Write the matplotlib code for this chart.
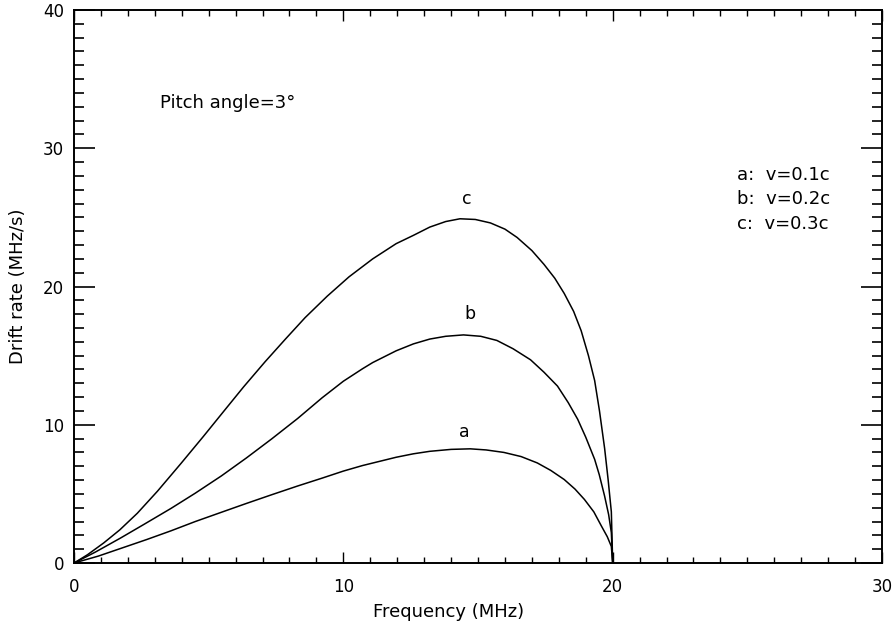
import matplotlib.pyplot as plt
from matplotlib.ticker import MultipleLocator

plt.rcParams.update({
    "font.family": "DejaVu Sans",
    "font.size": 12,
})

# drift rate vs frequency
freq_a = [0, 0.9, 1.8, 2.7, 3.6, 4.5, 5.47, 6.4, 7.34, 8.3, 9.21, 10.0, 10.71,
          11.96, 12.6, 13.21, 14.0, 14.71, 15.3, 15.96, 16.6, 17.2, 17.7, 18.2,
          18.6, 18.95, 19.3, 19.58, 19.8, 19.95, 20]
rate_a = [0, 0.5, 1.1, 1.7, 2.33, 3.0, 3.67, 4.31, 4.94, 5.57, 6.14, 6.65, 7.05,
          7.65, 7.9, 8.08, 8.22, 8.26, 8.18, 8.0, 7.7, 7.24, 6.7, 6.04,
          5.35, 4.6, 3.7, 2.68, 1.9, 1.2, 0]

freq_b = [0, 0.8, 1.72, 2.6, 3.6, 4.5, 5.47, 6.4, 7.34, 8.3, 9.21, 10.0, 10.71,
          11.09, 11.96, 12.6, 13.21, 13.8, 14.46, 15.1, 15.7, 16.3, 16.95, 17.45,
          17.95, 18.35, 18.7, 19.0, 19.33, 19.5, 19.7, 19.85, 19.95, 20]
rate_b = [0, 0.8, 1.8, 2.8, 3.95, 5.05, 6.3, 7.6, 8.98, 10.45, 11.95, 13.15, 14.05,
          14.5, 15.35, 15.85, 16.2, 16.4, 16.5, 16.4, 16.1, 15.5, 14.7, 13.8,
          12.8, 11.6, 10.4, 9.1, 7.5, 6.4, 4.84, 3.5, 2.2, 0]

freq_c = [0, 0.5, 1.1, 1.7, 2.35, 3.1, 3.97, 4.8, 5.59, 6.3, 7.09, 7.85, 8.58,
          9.4, 10.21, 11.09, 11.96, 12.6, 13.21, 13.8, 14.33, 14.9, 15.46, 16.0,
          16.45, 17.0, 17.45, 17.85, 18.2, 18.55, 18.83, 19.1, 19.33, 19.51,
          19.7, 19.83, 19.95, 20]
rate_c = [0, 0.6, 1.45, 2.4, 3.6, 5.2, 7.2, 9.15, 11.05, 12.75, 14.55, 16.2, 17.75,
          19.3, 20.7, 22.0, 23.1, 23.7, 24.3, 24.7, 24.9, 24.85, 24.6, 24.15,
          23.55, 22.6, 21.6, 20.6, 19.5, 18.2, 16.8, 15.0, 13.2, 11.0,
          8.3, 6.04, 3.7, 0]

curve_names = ["a", "b", "c"]
curve_label_pos = [(14.5, 9.5), (14.7, 18.0), (14.6, 26.3)]
legend_lines = ["a:  v=0.1c", "b:  v=0.2c", "c:  v=0.3c"]

fig = plt.figure(figsize=(8.93, 6.26), dpi=100)
ax = fig.add_axes([0.0829, 0.1006, 0.9048, 0.8834])

for f, r in [(freq_a, rate_a), (freq_b, rate_b), (freq_c, rate_c)]:
    ax.plot(f, r, color="black", lw=1.1, solid_joinstyle="round")

for name, (x, y) in zip(curve_names, curve_label_pos):
    ax.text(x, y, name, ha="center", va="center", fontsize=12.5)

ax.text(3.2, 33.3, "Pitch angle=3°", ha="left", va="center", fontsize=13)
for i, s in enumerate(legend_lines):
    ax.text(24.6, 28.1 - 1.8 * i, s, ha="left", va="center", fontsize=13)

ax.set_xlim(0, 30)
ax.set_ylim(0, 40)
ax.set_xlabel("Frequency (MHz)", fontsize=13)
ax.set_ylabel("Drift rate (MHz/s)", labelpad=12, fontsize=13)
ax.xaxis.set_label_coords(0.463, -0.072)

ax.xaxis.set_major_locator(MultipleLocator(10))
ax.xaxis.set_minor_locator(MultipleLocator(1))
ax.yaxis.set_major_locator(MultipleLocator(10))
ax.yaxis.set_minor_locator(MultipleLocator(1))

ax.tick_params(axis="both", which="both", direction="in", top=True, right=True, color="black")
ax.tick_params(axis="x", which="major", length=8, width=1, pad=11)
ax.tick_params(axis="x", which="minor", length=4, width=1)
ax.tick_params(axis="y", which="major", length=15, width=1.2, pad=7)
ax.tick_params(axis="y", which="minor", length=7, width=1.2)

for sp in ax.spines.values():
    sp.set_linewidth(1.4)

fig.savefig("out.png", dpi=100)
